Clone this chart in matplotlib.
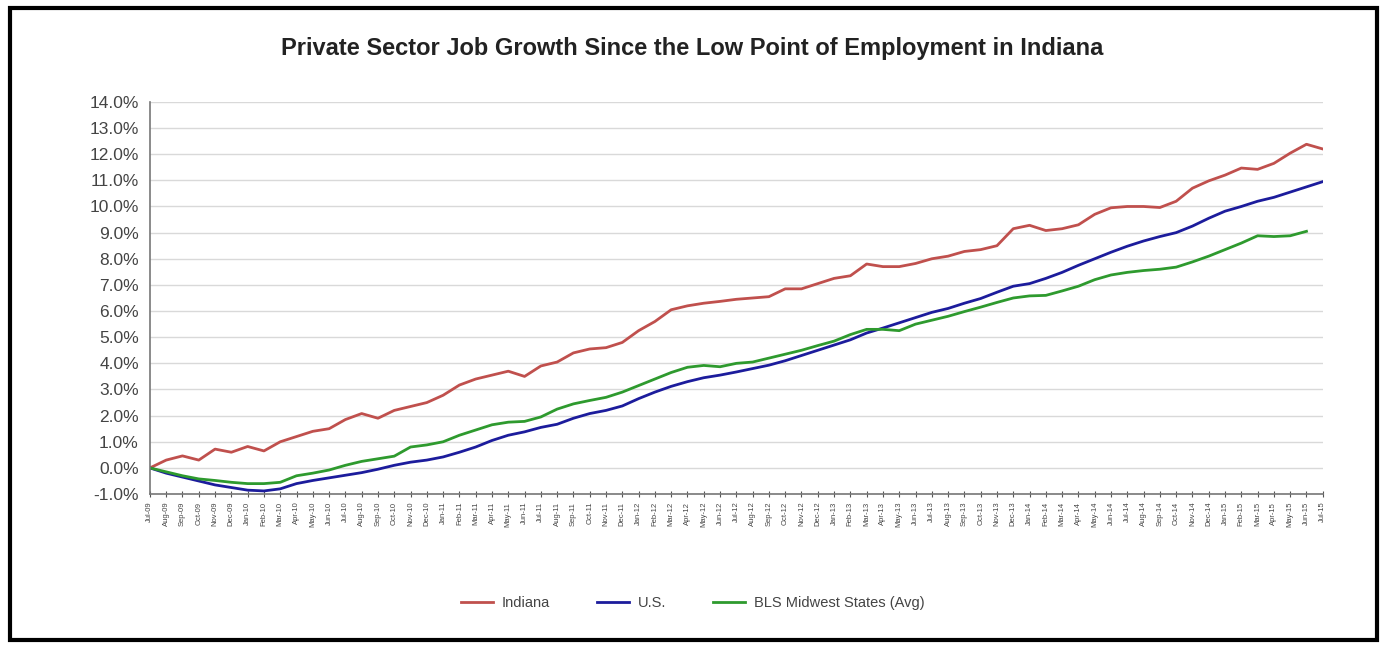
import numpy as np
import pandas as pd
import matplotlib
matplotlib.use("Agg")
import matplotlib.pyplot as plt
from matplotlib.patches import Rectangle
from matplotlib.ticker import FuncFormatter, MultipleLocator

plt.rcParams['font.family'] = ['Liberation Sans', 'DejaVu Sans']

# Monthly labels Jul-09 .. Jul-15
months = pd.date_range("2009-07-01", "2015-07-01", freq="MS")
month_labels = [d.strftime("%b-%y") for d in months]

# Percent growth since low point
indiana = [0.0, 0.3, 0.46, 0.3, 0.72, 0.6, 0.82, 0.65, 1.0, 1.2,
           1.4, 1.5, 1.85, 2.08, 1.9, 2.2, 2.35, 2.5, 2.78, 3.17,
           3.4, 3.55, 3.7, 3.5, 3.9, 4.05, 4.4, 4.55, 4.6, 4.8,
           5.25, 5.6, 6.05, 6.2, 6.3, 6.37, 6.45, 6.5, 6.55, 6.85,
           6.85, 7.05, 7.25, 7.35, 7.8, 7.7, 7.7, 7.82, 8.0, 8.1,
           8.28, 8.35, 8.5, 9.15, 9.28, 9.08, 9.15, 9.3, 9.7, 9.95,
           10.0, 10.0, 9.96, 10.2, 10.7, 10.98, 11.2, 11.47, 11.42, 11.65,
           12.04, 12.38, 12.2]
us = [0.0, -0.2, -0.35, -0.5, -0.65, -0.75, -0.85, -0.88, -0.8, -0.6,
      -0.48, -0.38, -0.28, -0.18, -0.05, 0.1, 0.22, 0.3, 0.42, 0.6,
      0.8, 1.05, 1.25, 1.38, 1.55, 1.67, 1.9, 2.08, 2.2, 2.37,
      2.65, 2.9, 3.12, 3.3, 3.45, 3.55, 3.67, 3.8, 3.93, 4.1,
      4.3, 4.5, 4.7, 4.9, 5.16, 5.35, 5.55, 5.75, 5.95, 6.1,
      6.3, 6.48, 6.72, 6.95, 7.05, 7.25, 7.48, 7.75, 8.0, 8.25,
      8.48, 8.68, 8.85, 9.0, 9.25, 9.55, 9.82, 10.0, 10.2, 10.35,
      10.55, 10.75, 10.95]
midwest = [0.0, -0.15, -0.3, -0.42, -0.48, -0.55, -0.6, -0.6, -0.55, -0.3,
           -0.2, -0.08, 0.1, 0.25, 0.35, 0.45, 0.8, 0.88, 1.0, 1.25,
           1.45, 1.65, 1.75, 1.78, 1.95, 2.25, 2.45, 2.58, 2.7, 2.9,
           3.15, 3.4, 3.65, 3.85, 3.92, 3.87, 4.0, 4.05, 4.2, 4.35,
           4.5, 4.68, 4.85, 5.1, 5.3, 5.3, 5.25, 5.5, 5.65, 5.8,
           5.98, 6.15, 6.33, 6.5, 6.58, 6.6, 6.77, 6.95, 7.2, 7.38,
           7.48, 7.55, 7.6, 7.68, 7.88, 8.1, 8.35, 8.6, 8.88, 8.85,
           8.88, 9.05, np.nan]

fig = plt.figure(figsize=(13.88, 6.45), dpi=100)
ax = fig.add_axes([0.108, 0.234, 0.845, 0.608])

x = np.arange(len(month_labels))
ax.plot(x, indiana, color='#c0504d', lw=2, label='Indiana')
ax.plot(x, us, color='#1c1c9c', lw=2, label='U.S.')
ax.plot(x, midwest, color='#2e9a2e', lw=2, label='BLS Midwest States (Avg)')

ax.set_xlim(0, len(month_labels) - 1)
ax.set_ylim(-1, 14)
ax.yaxis.set_major_locator(MultipleLocator(1))
ax.yaxis.set_major_formatter(FuncFormatter(lambda v, p: f"{v:.1f}%"))
ax.set_xticks(x)
ax.set_xticklabels(month_labels, rotation=90, fontsize=5.5, color='#444444')
ax.tick_params(axis='y', labelsize=12.5, colors='#444444', length=0, pad=8)
ax.tick_params(axis='x', length=4, direction='inout', color='#555555')

ax.grid(axis='y', color='#d9d9d9', lw=1)
ax.set_axisbelow(True)
for side in ['top', 'right']:
    ax.spines[side].set_visible(False)
for side in ['left', 'bottom']:
    ax.spines[side].set_color('#777777')
    ax.spines[side].set_linewidth(1.2)

fig.text(0.499, 0.925, "Private Sector Job Growth Since the Low Point of Employment in Indiana",
         ha='center', va='center', fontsize=17, fontweight='bold', color='#222222')

fig.legend(loc='center', bbox_to_anchor=(0.499, 0.065), ncol=3, frameon=False,
           fontsize=10.5, handlelength=2.2, handletextpad=0.6, columnspacing=3.2,
           labelcolor='#444444')

# outer frame
fig.patches.append(Rectangle((0.007, 0.008), 0.985, 0.98, transform=fig.transFigure,
                             fill=False, edgecolor='black', lw=3))

fig.savefig("out.png", dpi=100)
